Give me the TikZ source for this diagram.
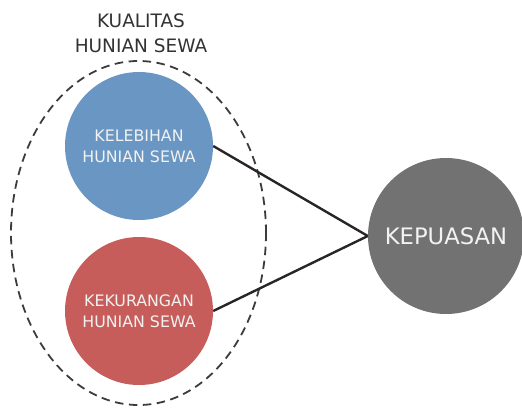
\documentclass[tikz,border=0pt]{standalone}
\usepackage{fontspec}
\setmainfont{DejaVu Sans}
\usetikzlibrary{shapes.geometric}
\definecolor{cblue}{HTML}{6A96C3}
\definecolor{cred}{HTML}{C75D5A}
\definecolor{cgray}{HTML}{727272}
\definecolor{cline}{HTML}{2A2525}
\definecolor{ctitle}{HTML}{333333}
\definecolor{ctext}{HTML}{F2F2F2}
\begin{document}
\begin{tikzpicture}[x=1pt,y=1pt,
  bubble/.style={circle,inner sep=0pt,text=ctext,align=center},
  link/.style={draw=cline,line width=2.4pt},
  group/.style={draw=cline!90,line width=1.8pt,dash pattern=on 8.5pt off 5.5pt}]
\clip (0,0) rectangle (522,-407);
\useasboundingbox (0,0) rectangle (522,-407);
\node[group,ellipse,minimum width=255pt,minimum height=344pt,inner sep=0pt] (grp) at (138.5,-233) {};
\node[text=ctitle,align=center,font=\fontsize{18.5}{25}\selectfont] (title) at (141,-33.5) {KUALITAS\\HUNIAN SEWA};
\node[bubble,fill=cblue,minimum size=148pt,font=\fontsize{15.8}{21}\selectfont] (kel) at (139,-146) {KELEBIHAN\\HUNIAN SEWA};
\node[bubble,fill=cred,minimum size=148pt,font=\fontsize{15.8}{21}\selectfont] (kek) at (139,-311) {KEKURANGAN\\HUNIAN SEWA};
\node[bubble,fill=cgray,minimum size=156pt,font=\fontsize{22.7}{27}\selectfont] (kep) at (446,-236) {KEPUASAN};
\draw[link] (kel.east) -- (kep.west);
\draw[link] (kek.east) -- (kep.west);
\end{tikzpicture}
\end{document}
